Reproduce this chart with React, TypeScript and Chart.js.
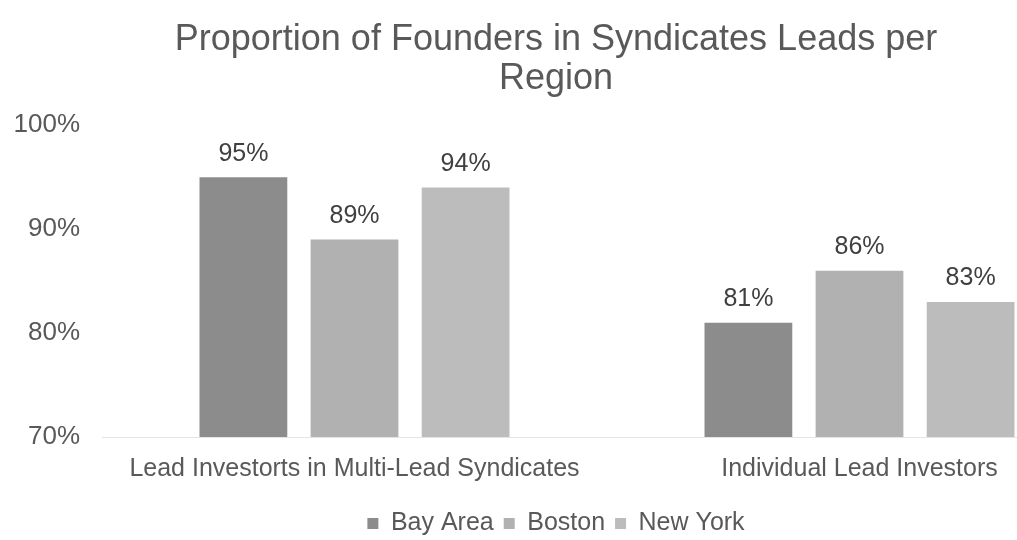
import React, { useEffect, useRef } from "react";
import { Chart, registerables } from "chart.js";

Chart.register(...registerables);

const categories = ["Lead Investorts in Multi-Lead Syndicates", "Individual Lead Investors"];
const seriesNames = ["Bay Area", "Boston", "New York"];
const bayArea = [95, 81];
const boston = [89, 86];
const newYork = [94, 83];
const yTicks = [70, 80, 90, 100];
const colors = ["#8c8c8c", "#b1b1b1", "#bcbcbc"];

const FONT = "'Liberation Sans', Arial, sans-serif";

const dataLabelPlugin = {
  id: "dataLabels",
  afterDatasetsDraw(chart: any) {
    const ctx = chart.ctx;
    ctx.save();
    ctx.font = `25px ${FONT}`;
    ctx.fillStyle = "#404040";
    ctx.textAlign = "center";
    ctx.textBaseline = "bottom";
    chart.data.datasets.forEach((ds: any, i: number) => {
      const meta = chart.getDatasetMeta(i);
      meta.data.forEach((bar: any, j: number) => {
        ctx.fillText(`${ds.data[j]}%`, bar.x, bar.y - 11);
      });
    });
    ctx.restore();
  },
};

export default function App() {
  const ref = useRef<HTMLCanvasElement | null>(null);
  useEffect(() => {
    if (!ref.current) return;
    const series = [bayArea, boston, newYork];
    const chart = new Chart(ref.current, {
      type: "bar",
      data: {
        labels: categories,
        datasets: seriesNames.map((name, i) => ({
          label: name,
          data: series[i],
          backgroundColor: colors[i],
          borderWidth: 0,
          categoryPercentage: 0.66,
          barPercentage: 0.79,
        })),
      },
      options: {
        animation: false,
        responsive: true,
        maintainAspectRatio: false,
        layout: { padding: { left: 0, right: 0, top: 0, bottom: -6 } },
        plugins: {
          title: {
            display: true,
            text: ["Proportion of Founders in Syndicates Leads per", "Region"],
            color: "#595959",
            font: { family: FONT, size: 36, weight: "normal", lineHeight: 1.1 },
            padding: { top: 20, bottom: 26 },
          },
          legend: {
            position: "bottom",
            labels: {
              color: "#595959",
              font: { family: FONT, size: 25 },
              boxWidth: 11,
              boxHeight: 11,
              padding: 10,
            },
          },
          tooltip: { enabled: false },
        },
        scales: {
          x: {
            grid: { display: false, drawTicks: false },
            border: { display: true, color: "#e4e4e4" },
            ticks: { color: "#595959", font: { family: FONT, size: 25 }, padding: 17 },
          },
          y: {
            min: 70,
            max: 100,
            afterBuildTicks: (axis: any) => {
              axis.ticks = yTicks.map((v) => ({ value: v }));
            },
            afterFit: (axis: any) => {
              axis.width = 102;
            },
            grid: { display: false, drawTicks: false },
            border: { display: false },
            ticks: {
              color: "#595959",
              font: { family: FONT, size: 26 },
              padding: 22,
              callback: (v: any) => `${v}%`,
            },
          },
        },
      },
      plugins: [dataLabelPlugin],
    });
    return () => chart.destroy();
  }, []);
  return (
    <div style={{ position: "absolute", left: 0, top: 0, width: 1017, height: 540, overflow: "hidden", background: "#fff" }}>
      <div style={{ position: "relative", width: 1112, height: 540 }}>
        <canvas ref={ref} />
      </div>
    </div>
  );
}
